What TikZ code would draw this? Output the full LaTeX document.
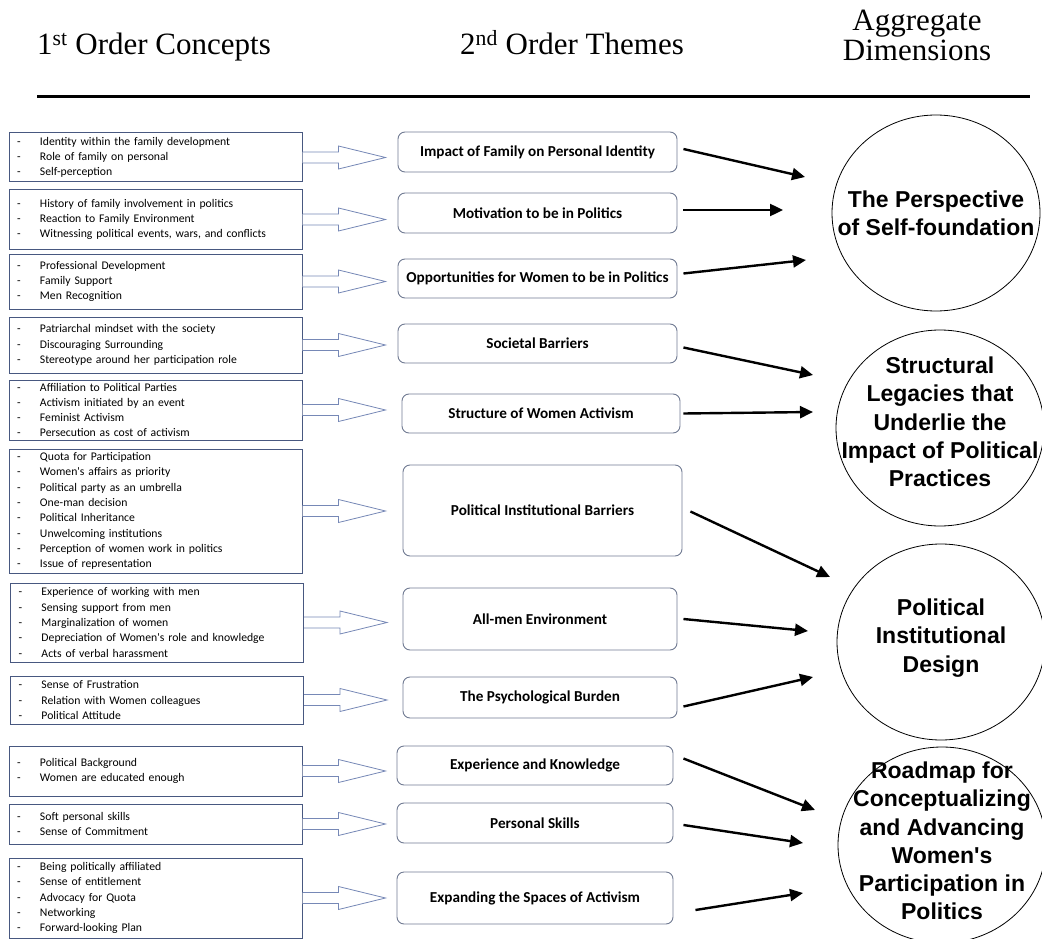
\documentclass[tikz,border=0pt]{standalone}
\usepackage{fontspec}
\setmainfont{Liberation Serif}
\newfontfamily\calib{Carlito}
\newfontfamily\arialb{Liberation Sans}
\usetikzlibrary{arrows.meta,calc,shapes.geometric}
\definecolor{boxblue}{RGB}{72,88,128}
\definecolor{arrowblue}{RGB}{118,136,182}
\definecolor{themegray}{RGB}{112,122,146}
\newcommand{\dl}{\makebox[23pt][l]{-}}
% hollow block arrow leaving the east side of a concept box
\newcommand{\fatarrow}[1]{\draw[hollow] ($(#1.east)+(0,-5.5)$) -- ++(36,0) -- ++(0,-6) -- ++(47,11.5) -- ++(-47,11.5) -- ++(0,-6) -- ++(-36,0);}
\begin{document}
\begin{tikzpicture}[x=1pt, y=-1pt,
  concept/.style={draw=boxblue,line width=1pt,text width=277pt,inner xsep=8pt,inner ysep=0pt,align=left,
    font=\calib\fontsize{11.7}{15.3}\selectfont,minimum width=293pt},
  theme/.style={draw=themegray,line width=0.9pt,rounded corners=7pt,inner sep=0pt,
    font=\calib\bfseries\fontsize{15.2}{17}\selectfont},
  dimcirc/.style={draw=black,line width=0.8pt,ellipse,minimum width=208pt,minimum height=196pt,inner sep=0pt},
  dimtext/.style={align=center,font=\arialb\bfseries\fontsize{23}{28.3}\selectfont},
  head/.style={font=\fontsize{31}{30}\selectfont,inner sep=0pt},
  hollow/.style={draw=arrowblue,line width=0.8pt,fill=white,line join=miter},
  conn/.style={-{Triangle[length=13pt,width=12pt]},line width=2.4pt,black}]
\useasboundingbox (0,0) rectangle (1042,939);
% headings
\node[head,anchor=base west] (h1) at (37,55) {1\textsuperscript{st} Order Concepts};
\node[head,anchor=base] (h2) at (572,55) {2\textsuperscript{nd} Order Themes};
\node[head,anchor=base,align=center] (h3) at (917,61) {Aggregate\\Dimensions};
\draw[line width=3pt] (37,97) -- (1030,97);
% 1st order concepts
\node[concept,minimum height=49pt] (l1) at (155.5,157.5) {\dl Identity within the family development\\\dl Role of family on personal\\\dl Self-perception};
\node[concept,minimum height=59pt] (l2) at (155.5,219.5) {\dl History of family involvement in politics\\\dl Reaction to Family Environment\\\dl Witnessing political events, wars, and conflicts};
\node[concept,minimum height=55pt] (l3) at (155.5,281.5) {\dl Professional Development\\\dl Family Support\\\dl Men Recognition};
\node[concept,minimum height=56pt] (l4) at (155.5,345) {\dl Patriarchal mindset with the society\\\dl Discouraging Surrounding\\\dl Stereotype around her participation role};
\node[concept,minimum height=60pt] (l5) at (155.5,410) {\dl Affiliation to Political Parties\\\dl Activism initiated by an event\\\dl Feminist Activism\\\dl Persecution as cost of activism};
\node[concept,minimum height=124pt] (l6) at (155.5,511) {\dl Quota for Participation\\\dl Women's affairs as priority\\\dl Political party as an umbrella\\\dl One-man decision\\\dl Political Inheritance\\\dl Unwelcoming institutions\\\dl Perception of women work in politics\\\dl Issue of representation};
\node[concept,minimum height=79pt] (l7) at (157,622.5) {\dl Experience of working with men\\\dl Sensing support from men\\\dl Marginalization of women\\\dl Depreciation of Women's role and knowledge\\\dl Acts of verbal harassment};
\node[concept,minimum height=48pt] (l8) at (157,700) {\dl Sense of Frustration\\\dl Relation with Women colleagues\\\dl Political Attitude};
\node[concept,minimum height=50pt] (l9) at (155.5,771) {\dl Political Background\\\dl Women are educated enough};
\node[concept,minimum height=40pt] (l10) at (155.5,824) {\dl Soft personal skills\\\dl Sense of Commitment};
\node[concept,minimum height=80pt] (l11) at (155.5,898) {\dl Being politically affiliated\\\dl Sense of entitlement\\\dl Advocacy for Quota\\\dl Networking\\\dl Forward-looking Plan};
\fatarrow{l1} \fatarrow{l2} \fatarrow{l3} \fatarrow{l4} \fatarrow{l5} \fatarrow{l6}
\fatarrow{l7} \fatarrow{l8} \fatarrow{l9} \fatarrow{l10} \fatarrow{l11}
% 2nd order themes
\node[theme,minimum width=279pt,minimum height=40pt] (m1) at (537.5,152) {Impact of Family on Personal Identity};
\node[theme,minimum width=279pt,minimum height=40pt] (m2) at (537.5,213) {Motivation to be in Politics};
\node[theme,minimum width=279pt,minimum height=39pt] (m3) at (537.5,278.5) {Opportunities for Women to be in Politics};
\node[theme,minimum width=279pt,minimum height=39pt] (m4) at (537.5,343.5) {Societal Barriers};
\node[theme,minimum width=278pt,minimum height=39pt] (m5) at (541,413.5) {Structure of Women Activism};
\node[theme,minimum width=279pt,minimum height=91pt] (m6) at (542.5,510.5) {Political Institutional Barriers};
\node[theme,minimum width=274pt,minimum height=62pt] (m7) at (540,619) {All-men Environment};
\node[theme,minimum width=274pt,minimum height=41pt] (m8) at (540,697.5) {The Psychological Burden};
\node[theme,minimum width=276pt,minimum height=39pt] (m9) at (535,765.5) {Experience and Knowledge};
\node[theme,minimum width=276pt,minimum height=40pt] (m10) at (535,823) {Personal Skills};
\node[theme,minimum width=276pt,minimum height=52pt] (m11) at (535,898) {Expanding the Spaces of Activism};
% aggregate dimensions
\node[dimcirc,label={[dimtext]center:{The Perspective\\of Self-foundation}}] (c1) at (936,213) {};
\node[dimcirc,label={[dimtext,yshift=6pt]center:{Structural\\Legacies that\\Underlie the\\Impact of Political\\Practices}}] (c2) at (940,428) {};
\node[dimcirc,label={[dimtext,yshift=4pt]center:{Political\\Institutional\\Design}}] (c3) at (941,642) {};
\node[dimcirc,label={[dimtext,yshift=4pt]center:{Roadmap for\\Conceptualizing\\and Advancing\\Women's\\Participation in\\Politics}}] (c4) at (942,845) {};
% arrow ends
\coordinate (t1) at (805,177); \coordinate (t2) at (783,210); \coordinate (t3) at (806,260);
\coordinate (t4) at (813,375); \coordinate (t5) at (813,412); \coordinate (t6) at (830,577);
\coordinate (t7) at (808,631); \coordinate (t8) at (813,677); \coordinate (t9) at (815,810);
\coordinate (t10) at (803,843); \coordinate (t11) at (803,893);
\draw[conn] ($(m1.east)+(6,-3)$) -- (t1); \draw[conn] ($(m2.east)+(6,-3)$) -- (t2);
\draw[conn] ($(m3.east)+(6,-5)$) -- (t3); \draw[conn] ($(m4.east)+(6,4)$) -- (t4);
\draw[conn] ($(m5.east)+(3,0)$) -- (t5); \draw[conn] ($(m6.east)+(8,1)$) -- (t6);
\draw[conn] ($(m7.east)+(6,0)$) -- (t7); \draw[conn] ($(m8.east)+(6,9)$) -- (t8);
\draw[conn] ($(m9.east)+(10,-7)$) -- (t9); \draw[conn] ($(m10.east)+(10,2)$) -- (t10);
\draw[conn] ($(m11.east)+(22,12)$) -- (t11);
\end{tikzpicture}
\end{document}
